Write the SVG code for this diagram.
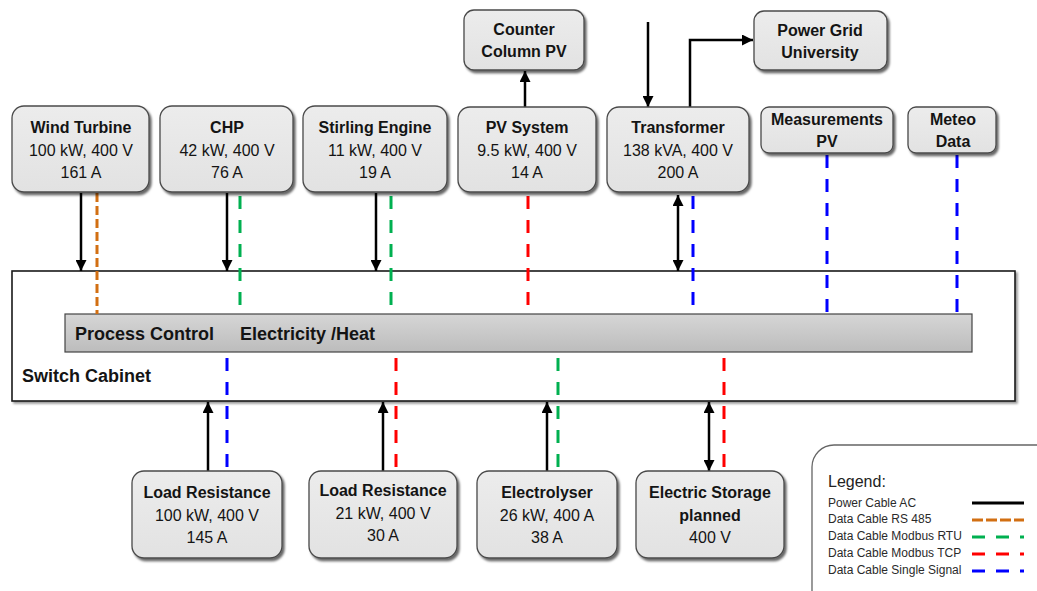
<svg xmlns="http://www.w3.org/2000/svg" width="1037" height="591" viewBox="0 0 1037 591">
<style>
text{font-family:"Liberation Sans",Arial,sans-serif;fill:#141414;}
.t{font-size:16px;font-weight:bold;text-anchor:middle;}
.v{font-size:16px;text-anchor:middle;}
.box{fill:url(#bg);stroke:#4a4a4a;stroke-width:1.3;filter:url(#sh);}
.pw{stroke:#000;stroke-width:2.5;fill:none;}
.rs{stroke:#d26f12;stroke-width:3;stroke-dasharray:9 4;fill:none;}
.rtu{stroke:#00b050;stroke-width:3;stroke-dasharray:13 11;fill:none;}
.tcp{stroke:#ff0000;stroke-width:3;stroke-dasharray:13 11;fill:none;}
.sig{stroke:#0000ff;stroke-width:3;stroke-dasharray:13 11;fill:none;}
.big{font-size:18px;font-weight:bold;}
.lg{font-size:12px;fill:#2a2a2a;}
</style>
<defs>
<linearGradient id="bg" x1="0" y1="0" x2="0" y2="1"><stop offset="0" stop-color="#ececec"/><stop offset="1" stop-color="#e2e2e2"/></linearGradient>
<linearGradient id="bar" x1="0" y1="0" x2="0" y2="1"><stop offset="0" stop-color="#d6d6d6"/><stop offset="1" stop-color="#bcbcbc"/></linearGradient>
<filter id="sh" x="-10%" y="-10%" width="130%" height="140%"><feDropShadow dx="2" dy="2.5" stdDeviation="1.3" flood-color="#000" flood-opacity="0.6"/></filter>
<filter id="sh2" x="-5%" y="-5%" width="115%" height="120%"><feDropShadow dx="2" dy="2" stdDeviation="1" flood-color="#000" flood-opacity="0.4"/></filter>
<marker id="ah" markerWidth="11" markerHeight="11" refX="11" refY="5.5" orient="auto-start-reverse" markerUnits="userSpaceOnUse"><path d="M0,0 L11,5.5 L0,11 z" fill="#000"/></marker>
</defs>

<g id="switch-cabinet">
<rect x="12" y="271" width="1003" height="130" fill="#fff" stroke="#1a1a1a" stroke-width="1.6" filter="url(#sh2)"/>
<text x="22" y="382" class="big">Switch Cabinet</text>
</g>
<g id="process-control">
<rect x="65" y="314" width="907" height="38" fill="url(#bar)" stroke="#444" stroke-width="1.2"/>
<text x="75" y="340" class="big">Process Control</text>
<text x="240" y="340" class="big">Electricity /Heat</text>
</g>

<g id="connectors">
<line class="pw" x1="81" y1="193" x2="81" y2="271" marker-end="url(#ah)"/>
<line class="rs" x1="97" y1="193" x2="97" y2="314"/>
<line class="pw" x1="227" y1="193" x2="227" y2="271" marker-end="url(#ah)"/>
<line class="rtu" x1="240" y1="196" x2="240" y2="314"/>
<line class="pw" x1="376" y1="193" x2="376" y2="271" marker-end="url(#ah)"/>
<line class="rtu" x1="391" y1="196" x2="391" y2="314"/>
<line class="tcp" x1="528" y1="196" x2="528" y2="314"/>
<line class="pw" x1="525" y1="107" x2="525" y2="71" marker-end="url(#ah)"/>
<line class="pw" x1="678" y1="195" x2="678" y2="271" marker-start="url(#ah)" marker-end="url(#ah)"/>
<line class="sig" x1="693" y1="196" x2="693" y2="314"/>
<line class="pw" x1="648" y1="22" x2="648" y2="107" marker-end="url(#ah)"/>
<polyline class="pw" points="690,107 690,40 753,40" marker-end="url(#ah)"/>
<line class="sig" x1="827" y1="155" x2="827" y2="314"/>
<line class="sig" x1="957" y1="155" x2="957" y2="314"/>
<line class="pw" x1="208" y1="471" x2="208" y2="402" marker-end="url(#ah)"/>
<line class="sig" x1="227" y1="358" x2="227" y2="471"/>
<line class="pw" x1="383" y1="471" x2="383" y2="402" marker-end="url(#ah)"/>
<line class="tcp" x1="396" y1="358" x2="396" y2="471"/>
<line class="pw" x1="547" y1="471" x2="547" y2="402" marker-end="url(#ah)"/>
<line class="rtu" x1="558" y1="358" x2="558" y2="471"/>
<line class="pw" x1="709" y1="471" x2="709" y2="402" marker-start="url(#ah)" marker-end="url(#ah)"/>
<line class="tcp" x1="724" y1="358" x2="724" y2="471"/>
</g>

<g id="wind-turbine">
<rect class="box" x="12" y="106" width="137" height="86" rx="12"/>
<text class="t" x="81" y="133">Wind Turbine</text>
<text class="v" x="81" y="156">100 kW, 400 V</text>
<text class="v" x="81" y="178">161 A</text>
</g>
<g id="chp">
<rect class="box" x="160" y="106" width="133" height="86" rx="12"/>
<text class="t" x="227" y="133">CHP</text>
<text class="v" x="227" y="156">42 kW, 400 V</text>
<text class="v" x="227" y="178">76 A</text>
</g>
<g id="stirling-engine">
<rect class="box" x="303" y="106" width="144" height="86" rx="12"/>
<text class="t" x="375" y="133">Stirling Engine</text>
<text class="v" x="375" y="156">11 kW, 400 V</text>
<text class="v" x="375" y="178">19 A</text>
</g>
<g id="pv-system">
<rect class="box" x="458" y="107" width="138" height="85" rx="12"/>
<text class="t" x="527" y="133">PV System</text>
<text class="v" x="527" y="156">9.5 kW, 400 V</text>
<text class="v" x="527" y="178">14 A</text>
</g>
<g id="transformer">
<rect class="box" x="607" y="107" width="142" height="85" rx="12"/>
<text class="t" x="678" y="133">Transformer</text>
<text class="v" x="678" y="156">138 kVA, 400 V</text>
<text class="v" x="678" y="178">200 A</text>
</g>
<g id="counter-column-pv">
<rect class="box" x="464" y="10" width="120" height="60" rx="10"/>
<text class="t" x="524" y="35">Counter</text>
<text class="t" x="524" y="57">Column PV</text>
</g>
<g id="power-grid-university">
<rect class="box" x="754" y="11" width="133" height="59" rx="10"/>
<text class="t" x="820" y="36">Power Grid</text>
<text class="t" x="820" y="58">University</text>
</g>
<g id="measurements-pv">
<rect class="box" x="761" y="107" width="132" height="46" rx="8"/>
<text class="t" x="827" y="125">Measurements</text>
<text class="t" x="827" y="147">PV</text>
</g>
<g id="meteo-data">
<rect class="box" x="908" y="107" width="88" height="46" rx="8"/>
<text class="t" x="953" y="125">Meteo</text>
<text class="t" x="953" y="147">Data</text>
</g>

<g id="load-resistance-1">
<rect class="box" x="132" y="471" width="150" height="87" rx="12"/>
<text class="t" x="207" y="498">Load Resistance</text>
<text class="v" x="207" y="521">100 kW, 400 V</text>
<text class="v" x="207" y="543">145 A</text>
</g>
<g id="load-resistance-2">
<rect class="box" x="309" y="471" width="148" height="87" rx="12"/>
<text class="t" x="383" y="496">Load Resistance</text>
<text class="v" x="383" y="519">21 kW, 400 V</text>
<text class="v" x="383" y="541">30 A</text>
</g>
<g id="electrolyser">
<rect class="box" x="477" y="471" width="140" height="87" rx="12"/>
<text class="t" x="547" y="498">Electrolyser</text>
<text class="v" x="547" y="521">26 kW, 400 A</text>
<text class="v" x="547" y="543">38 A</text>
</g>
<g id="electric-storage">
<rect class="box" x="636" y="471" width="148" height="87" rx="12"/>
<text class="t" x="710" y="498">Electric Storage</text>
<text class="t" x="710" y="521">planned</text>
<text class="v" x="710" y="543">400 V</text>
</g>

<g id="legend">
<rect x="812" y="445" width="250" height="170" rx="22" fill="#fff" stroke="#666" stroke-width="1.3" filter="url(#sh2)"/>
<text x="828" y="487" style="font-size:16px;fill:#222">Legend:</text>
<text class="lg" x="828" y="507">Power Cable AC</text>
<text class="lg" x="828" y="523">Data Cable RS 485</text>
<text class="lg" x="828" y="540">Data Cable Modbus RTU</text>
<text class="lg" x="828" y="557">Data Cable Modbus TCP</text>
<text class="lg" x="828" y="574">Data Cable Single Signal</text>
<line x1="972" y1="503" x2="1024" y2="503" stroke="#000" stroke-width="3"/>
<line x1="972" y1="520" x2="1024" y2="520" stroke="#d26f12" stroke-width="3" stroke-dasharray="11 3"/>
<line x1="972" y1="537" x2="1024" y2="537" stroke="#00b050" stroke-width="3" stroke-dasharray="13 11"/>
<line x1="972" y1="554" x2="1024" y2="554" stroke="#ff0000" stroke-width="3" stroke-dasharray="13 11"/>
<line x1="972" y1="571" x2="1024" y2="571" stroke="#0000ff" stroke-width="3" stroke-dasharray="13 11"/>
</g>
</svg>
